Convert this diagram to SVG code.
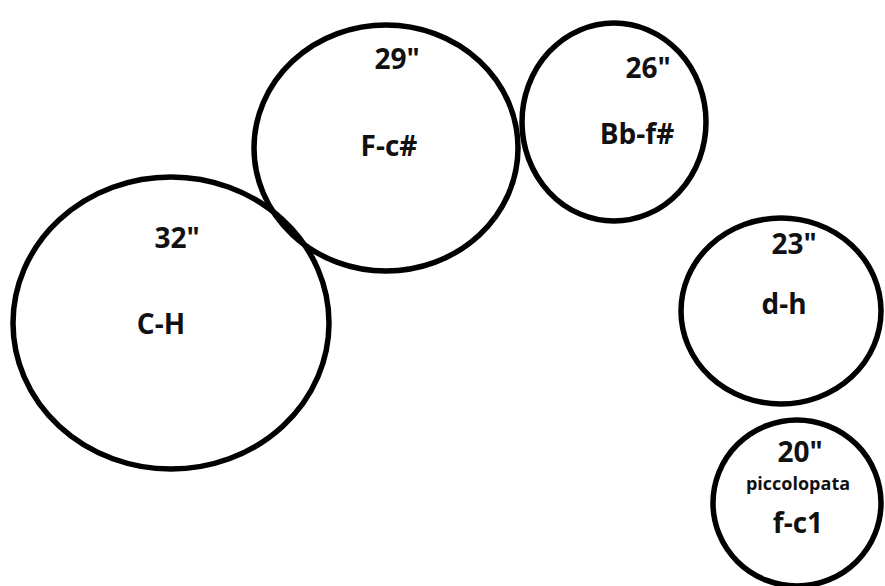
<svg xmlns="http://www.w3.org/2000/svg" width="885" height="586" viewBox="0 0 885 586">
<style>
.c{fill:none;stroke:#000;stroke-width:5.5}
.t{font-family:"Open Sans","Liberation Sans",sans-serif;font-weight:bold;font-size:28px;fill:#111;text-anchor:middle}
.s{font-size:18px}
</style>
<rect width="885" height="586" fill="#fff"/>
<g id="n32"><ellipse class="c" cx="171" cy="323" rx="158" ry="146"/><text class="t" x="177" y="248">32"</text><text class="t" x="161" y="334">C-H</text></g>
<g id="n29"><ellipse class="c" cx="386" cy="148" rx="132" ry="123"/><text class="t" x="397" y="69">29"</text><text class="t" x="389" y="156">F-c#</text></g>
<g id="n26"><ellipse class="c" cx="614" cy="122" rx="92" ry="99"/><text class="t" x="648" y="78">26"</text><text class="t" x="637" y="144">Bb-f#</text></g>
<g id="n23"><ellipse class="c" cx="781" cy="311" rx="100" ry="93"/><text class="t" x="794" y="254">23"</text><text class="t" x="784" y="314">d-h</text></g>
<g id="n20"><ellipse class="c" cx="797" cy="503" rx="84" ry="83"/><text class="t" x="800" y="462">20"</text><text class="t s" x="798" y="490">piccolopata</text><text class="t" x="798" y="533">f-c1</text></g>
<g id="connectors"/>
</svg>
